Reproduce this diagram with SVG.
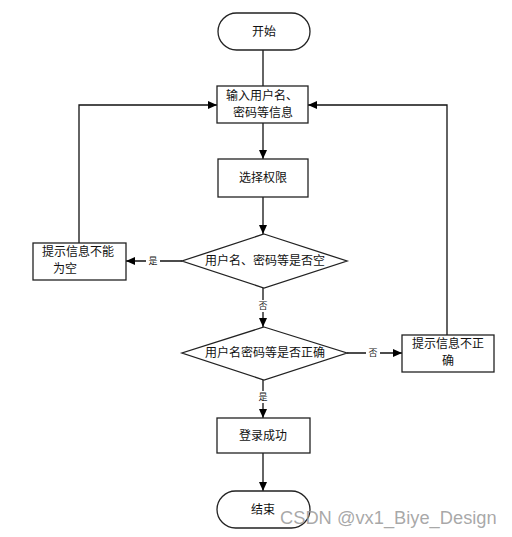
<svg xmlns="http://www.w3.org/2000/svg" width="512" height="537" viewBox="0 0 512 537">
<style>
.n{fill:#fff;stroke:#222;stroke-width:1.3}
.t{font-family:"Noto Sans CJK SC","Noto Sans",sans-serif;font-size:12px;fill:#111;text-anchor:middle}
.s{font-family:"Noto Sans CJK SC","Noto Sans",sans-serif;font-size:9px;fill:#222;text-anchor:middle}
.c{fill:none;stroke:#111;stroke-width:1.3}
</style>
<defs>
<marker id="a" markerWidth="10" markerHeight="8" refX="9" refY="4" orient="auto" markerUnits="userSpaceOnUse">
<path d="M0,0 L9,4 L0,8 Z" fill="#000"/>
</marker>
</defs>
<rect width="512" height="537" fill="#fff"/>
<g id="connectors">
<path class="c" d="M263,50 V86"/>
<path class="c" d="M263,123 V159" marker-end="url(#a)"/>
<path class="c" d="M263,197 V234" marker-end="url(#a)"/>
<path class="c" d="M182,261 H126" marker-end="url(#a)"/>
<path class="c" d="M79,243 V105 H217" marker-end="url(#a)"/>
<path class="c" d="M263,288 V327" marker-end="url(#a)"/>
<path class="c" d="M347,353 H402" marker-end="url(#a)"/>
<path class="c" d="M447,335 V105 H308" marker-end="url(#a)"/>
<path class="c" d="M263,380 V418" marker-end="url(#a)"/>
<path class="c" d="M263,453 V491" marker-end="url(#a)"/>
<rect x="146" y="255" width="14" height="12" fill="#fff"/>
<text class="s" x="153" y="264">是</text>
<rect x="257" y="300" width="12" height="12" fill="#fff"/>
<text class="s" x="263" y="309">否</text>
<rect x="366" y="347" width="14" height="12" fill="#fff"/>
<text class="s" x="373" y="356">否</text>
<rect x="257" y="391" width="12" height="12" fill="#fff"/>
<text class="s" x="263" y="400">是</text>
</g>
<g id="start">
<rect class="n" x="218" y="13" width="92" height="37" rx="18.5"/>
<text class="t" x="264" y="36">开始</text>
</g>
<g id="input">
<rect class="n" x="217" y="86" width="91" height="37"/>
<text class="t" x="262" y="100">输入用户名、</text>
<text class="t" x="263" y="117">密码等信息</text>
</g>
<g id="role">
<rect class="n" x="218" y="159" width="90" height="38"/>
<text class="t" x="263" y="182">选择权限</text>
</g>
<g id="check-empty">
<polygon class="n" points="264,234 347,261 264,288 182,261"/>
<text class="t" x="265" y="265">用户名、密码等是否空</text>
</g>
<g id="msg-empty">
<rect class="n" x="33" y="243" width="93" height="37"/>
<text class="t" x="78" y="256">提示信息不能</text>
<text class="t" x="65" y="273">为空</text>
</g>
<g id="check-correct">
<polygon class="n" points="264,327 347,353 264,380 182,353"/>
<text class="t" x="265" y="357">用户名密码等是否正确</text>
</g>
<g id="msg-wrong">
<rect class="n" x="402" y="335" width="92" height="37"/>
<text class="t" x="448" y="348">提示信息不正</text>
<text class="t" x="448" y="365">确</text>
</g>
<g id="success">
<rect class="n" x="217" y="418" width="93" height="35"/>
<text class="t" x="263" y="440">登录成功</text>
</g>
<g id="end">
<rect class="n" x="217" y="491" width="93" height="37" rx="18.5"/>
<text class="t" x="263" y="514">结束</text>
</g>
<text x="280" y="524" font-family="Liberation Sans, Arial, sans-serif" font-size="18.3" fill="#999" fill-opacity="0.85">CSDN @vx1_Biye_Design</text>
</svg>
